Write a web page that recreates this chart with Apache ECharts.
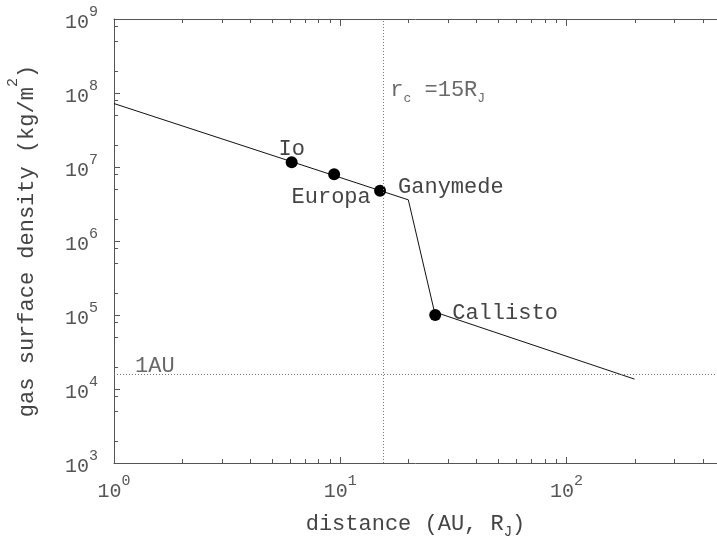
<!DOCTYPE html>
<html><head><meta charset="utf-8">
<script src="https://cdn.jsdelivr.net/npm/echarts@6/dist/echarts.min.js"></script>
<style>html,body{margin:0;padding:0;background:#fff}#c{width:717px;height:538px}</style>
</head><body><div id="c"></div>
<script>
// ---- data ----
const xMin = 1, xMax = 463, yMin = 1e3, yMax = 1e9;
const profileDist = [1, 20, 26.1, 200];
const profileSigma = [7.2e7, 3.6e6, 1.1e5, 1.36e4];
const moonNames = ['Io', 'Europa', 'Ganymede', 'Callisto'];
const moonDist = [6.1, 9.4, 15.0, 26.3];
const moonSigma = [1.16e7, 8.0e6, 4.76e6, 1.0e5];
const rcDist = 15.5;
const auSigma = 1.6e4;
const minorXTicks = [2, 3, 4, 5, 6, 7, 8, 9, 20, 30, 40, 50, 60, 70, 80, 90, 200, 300, 400];
const minorYTicks = [2e3, 5e3, 8e3, 2e4, 5e4, 8e4, 2e5, 5e5, 8e5, 2e6, 5e6, 8e6, 2e7, 5e7, 8e7, 2e8, 5e8, 8e8];

// ---- styles ----
const FONT = 'Liberation Mono';
const AX = '#555';
const TXT = '#444';
const FS = 22;
const moonLabelStyle = [
  { align: 'center', offset: [0, -13] },
  { align: 'center', offset: [-3, 23] },
  { align: 'left', offset: [18, -4] },
  { align: 'left', offset: [17, -2] }
];

function powLabel(v) {
  const e = Math.log10(v), r = Math.round(e);
  if (Math.abs(e - r) > 1e-6) return '';
  return '{b|10}{s|' + r + '}';
}
const tickRich = {
  b: { fontSize: 20, fontFamily: FONT, color: AX, lineHeight: 28, verticalAlign: 'bottom' },
  s: { fontSize: 15, fontFamily: FONT, color: AX, verticalAlign: 'top' }
};

const chart = echarts.init(document.getElementById('c'), null, { renderer: 'canvas' });

const option = {
  animation: false,
  backgroundColor: '#fff',
  grid: { left: 114, right: 0, top: 19, bottom: 75, containLabel: false, outerBoundsMode: 'none' },
  xAxis: [{
    type: 'log', logBase: 10, min: xMin, max: xMax,
    name: '{m|distance (AU, R}{s|J}{m|)}', nameLocation: 'middle', nameGap: 50,
    nameTextStyle: {
      fontFamily: FONT, fontSize: FS, color: TXT,
      rich: {
        m: { fontFamily: FONT, fontSize: FS, color: TXT, lineHeight: 26, verticalAlign: 'top' },
        s: { fontFamily: FONT, fontSize: 14, color: TXT, verticalAlign: 'bottom' }
      }
    },
    axisLine: { show: true, lineStyle: { color: AX, width: 1 } },
    axisTick: { show: true, inside: true, length: 6, lineStyle: { color: AX } },
    axisLabel: { formatter: powLabel, rich: tickRich, margin: 11, showMaxLabel: false },
    splitLine: { show: false }
  }, {
    type: 'log', logBase: 10, min: xMin, max: xMax, position: 'top',
    axisLine: { show: true, lineStyle: { color: AX, width: 1 } },
    axisTick: { show: true, inside: true, length: 7, lineStyle: { color: AX } },
    axisLabel: { show: false },
    splitLine: { show: false }
  }],
  yAxis: [{
    type: 'log', logBase: 10, min: yMin, max: yMax,
    name: '{m|gas surface density (kg/m}{s|2}{m|)}', nameLocation: 'middle', nameGap: 76,
    nameTextStyle: {
      fontFamily: FONT, fontSize: FS, color: TXT,
      rich: {
        m: { fontFamily: FONT, fontSize: FS, color: TXT, lineHeight: 32, verticalAlign: 'bottom' },
        s: { fontFamily: FONT, fontSize: 15, color: TXT, verticalAlign: 'top' }
      }
    },
    axisLine: { show: true, lineStyle: { color: AX, width: 1 } },
    axisTick: { show: true, inside: true, length: 6, lineStyle: { color: AX } },
    axisLabel: { formatter: powLabel, rich: tickRich, margin: 16 },
    splitLine: { show: false }
  }],
  series: [
    {
      type: 'custom', name: 'minorX', xAxisIndex: 0, yAxisIndex: 0, clip: false, silent: true, z: 1,
      data: minorXTicks.map(v => [v, yMin]),
      renderItem(params, api) {
        const v = api.value(0);
        const b = api.coord([v, yMin]), t = api.coord([v, yMax]);
        const x = Math.round(b[0]) + 0.5;
        return { type: 'group', children: [
          { type: 'line', shape: { x1: x, y1: b[1], x2: x, y2: b[1] - 4 }, style: { stroke: AX, lineWidth: 1 } },
          { type: 'line', shape: { x1: x, y1: t[1], x2: x, y2: t[1] + 4 }, style: { stroke: AX, lineWidth: 1 } }
        ] };
      }
    },
    {
      type: 'custom', name: 'minorY', xAxisIndex: 0, yAxisIndex: 0, clip: false, silent: true, z: 1,
      data: minorYTicks.map(v => [xMin, v]),
      renderItem(params, api) {
        const v = api.value(1);
        const p = api.coord([xMin, v]);
        const y = Math.round(p[1]) + 0.5;
        return { type: 'line', shape: { x1: p[0], y1: y, x2: p[0] + 4, y2: y }, style: { stroke: AX, lineWidth: 1 } };
      }
    },
    {
      type: 'line', name: 'profile', showSymbol: false, symbol: 'none', z: 3,
      data: profileDist.map((d, i) => [d, profileSigma[i]]),
      lineStyle: { color: '#111', width: 1 },
      markLine: {
        silent: true, symbol: 'none', label: { show: false },
        lineStyle: { color: '#777', type: [1, 2], width: 1 },
        data: [{ xAxis: rcDist }, { yAxis: auSigma }]
      }
    },
    {
      type: 'scatter', name: 'moons', symbol: 'circle', symbolSize: 12, z: 4, clip: false,
      itemStyle: { color: '#000', opacity: 1 },
      data: moonNames.map((n, i) => ({
        name: n, value: [moonDist[i], moonSigma[i]],
        label: Object.assign({
          show: true, position: 'inside', formatter: n, color: TXT,
          fontFamily: FONT, fontSize: FS, textBorderWidth: 0
        }, moonLabelStyle[i])
      }))
    },
    {
      type: 'scatter', name: 'annotations', symbolSize: 1, z: 4, clip: false, silent: true,
      itemStyle: { color: 'rgba(0,0,0,0)' },
      data: [
        { value: [xMin, auSigma], label: { show: true, position: 'inside', align: 'left', offset: [21, -8], formatter: '1AU', color: TXT, fontFamily: FONT, fontSize: FS, textBorderWidth: 0 } },
        { value: [rcDist, yMax], label: { show: true, position: 'inside', align: 'left', offset: [7, 73], formatter: '{m|r}{s|c}{m| =15R}{s|J}', color: TXT, fontFamily: FONT, fontSize: FS, textBorderWidth: 0,
          rich: {
            m: { fontFamily: FONT, fontSize: FS, color: TXT, lineHeight: 26, verticalAlign: 'top' },
            s: { fontFamily: FONT, fontSize: 13, color: TXT, verticalAlign: 'bottom' }
          } } }
      ]
    }
  ]
};
chart.setOption(option);
</script>
</body></html>
